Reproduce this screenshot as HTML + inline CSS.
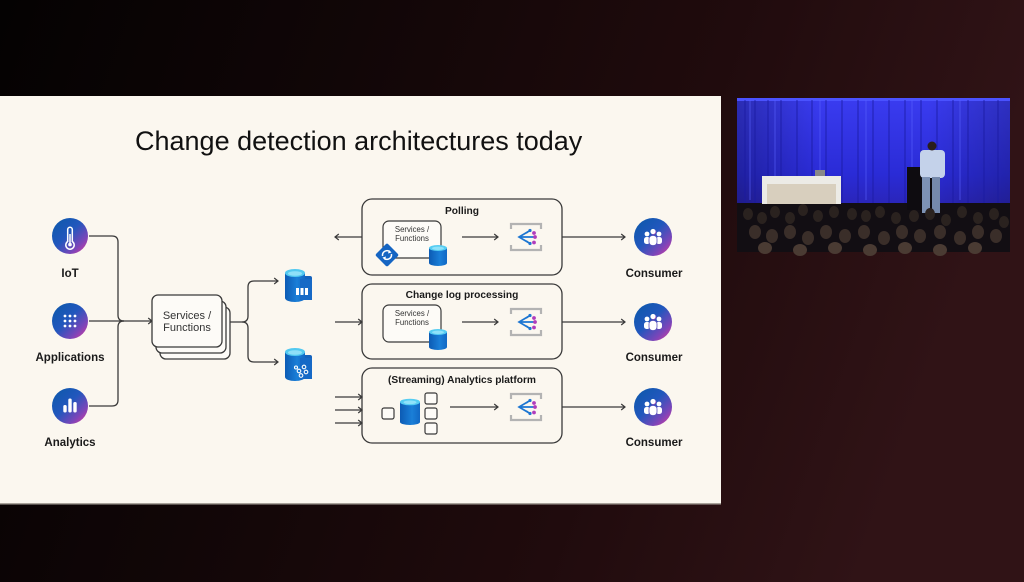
<!DOCTYPE html>
<html><head><meta charset="utf-8"><style>
html,body{margin:0;padding:0;width:1024px;height:582px;overflow:hidden;background:#000}
svg{display:block}
text{font-family:"Liberation Sans",Arial,sans-serif}
</style></head><body>
<svg width="1024" height="582" viewBox="0 0 1024 582" xmlns="http://www.w3.org/2000/svg">
<defs>
<linearGradient id="bg" x1="0" y1="0" x2="1" y2="0.2">
<stop offset="0" stop-color="#040202"/><stop offset="0.35" stop-color="#110607"/><stop offset="0.7" stop-color="#200b0d"/><stop offset="1" stop-color="#301316"/>
</linearGradient>
<linearGradient id="cg" x1="0" y1="0" x2="1" y2="1">
<stop offset="0" stop-color="#0a58a8"/><stop offset="0.45" stop-color="#2157bd"/><stop offset="0.75" stop-color="#7b45b9"/><stop offset="1" stop-color="#e23b9a"/>
</linearGradient>
<linearGradient id="dbg" x1="0" y1="0" x2="1" y2="0">
<stop offset="0" stop-color="#0c5bb4"/><stop offset="0.6" stop-color="#1a7fd8"/><stop offset="1" stop-color="#1168c4"/>
</linearGradient>
<linearGradient id="cur" x1="0" y1="0" x2="0" y2="1">
<stop offset="0" stop-color="#3a3cf0"/><stop offset="0.5" stop-color="#2a2bd6"/><stop offset="0.8" stop-color="#2a22a8"/><stop offset="1" stop-color="#1a1050"/>
</linearGradient>
<linearGradient id="curh" x1="0" y1="0" x2="1" y2="0">
<stop offset="0" stop-color="#000" stop-opacity="0.25"/><stop offset="0.3" stop-color="#000" stop-opacity="0"/><stop offset="0.7" stop-color="#000" stop-opacity="0"/><stop offset="1" stop-color="#000" stop-opacity="0.2"/>
</linearGradient>
<marker id="ah" markerWidth="8" markerHeight="8" refX="6" refY="4" orient="auto" markerUnits="userSpaceOnUse">
<path d="M2.2,1 L6,4 L2.2,7" fill="none" stroke="#3a3a3a" stroke-width="1.2"/>
</marker>
<g id="evt">
<path d="M0,5 V0 H30 V5" fill="none" stroke="#b3b3b3" stroke-width="2.2"/>
<path d="M0,21 V26 H30 V21" fill="none" stroke="#b3b3b3" stroke-width="2.2"/>
<path d="M19,6.5 L8,13 L19,19.5 M8,13 H23 M13,10 L17,8 M13,16 L17,18" fill="none" stroke="#1d76d2" stroke-width="1.7"/>
<circle cx="19" cy="6.5" r="1.6" fill="#1d76d2"/>
<circle cx="23" cy="9" r="1.9" fill="#b03cbc"/>
<circle cx="24" cy="13" r="1.9" fill="#b03cbc"/>
<circle cx="23" cy="18.5" r="1.9" fill="#b03cbc"/>
<circle cx="19" cy="19.5" r="1.6" fill="#1d76d2"/>
</g>
<g id="sdb">
<path d="M0,3 V18 A9,3 0 0 0 18,18 V3 Z" fill="url(#dbg)"/>
<ellipse cx="9" cy="3" rx="9" ry="3" fill="#56cdf2"/>
<ellipse cx="9" cy="3.3" rx="6" ry="1.7" fill="#8fe2fa"/>
</g>
<g id="bigdb">
<rect x="15" y="7" width="12" height="24" rx="2" fill="#1462bd"/>
<path d="M0,4 V29 A10,4 0 0 0 20,29 V4 Z" fill="url(#dbg)"/>
<path d="M15,10 H27 V31 H15 Z" fill="#1669c6"/>
<ellipse cx="10" cy="4" rx="10" ry="4" fill="#52c9f0"/>
<ellipse cx="10" cy="4.5" rx="7" ry="2.3" fill="#8ee0f8"/>
</g>
<g id="ppl" fill="#fff">
<circle cx="-6" cy="-3" r="2.4"/><circle cx="6" cy="-3" r="2.4"/>
<rect x="-9" y="0" width="6" height="7" rx="2.5"/><rect x="3" y="0" width="6" height="7" rx="2.5"/>
<circle cx="0" cy="-5.5" r="3" stroke="url(#cg)" stroke-width="0.8"/>
<rect x="-4" y="-1.5" width="8" height="10" rx="3.5" stroke="#5a4fbd" stroke-width="0.8"/>
</g>
</defs>

<rect x="0" y="0" width="1024" height="582" fill="url(#bg)"/>

<!-- slide -->
<rect x="0" y="96" width="721" height="408" fill="#fbf7ef"/>
<rect x="0" y="503" width="721" height="1.5" fill="#a8a29a"/>

<text x="135" y="150" font-size="27" fill="#111">Change detection architectures today</text>

<!-- left sources -->
<circle cx="70" cy="236" r="18" fill="url(#cg)"/>
<path d="M67.7,241.5 V229.5 A2.3,2.3 0 0 1 72.3,229.5 V241.5 A4.2,4.2 0 1 1 67.7,241.5 Z" fill="none" stroke="#fff" stroke-width="1.5"/>
<line x1="70" y1="234" x2="70" y2="243" stroke="#fff" stroke-width="1.5"/>
<circle cx="70" cy="244.6" r="1.8" fill="#fff"/>

<circle cx="70" cy="321" r="18" fill="url(#cg)"/>
<g fill="#fff">
<circle cx="65" cy="316" r="1.4"/><circle cx="70" cy="316" r="1.4"/><circle cx="75" cy="316" r="1.4"/>
<circle cx="65" cy="321" r="1.4"/><circle cx="70" cy="321" r="1.4"/><circle cx="75" cy="321" r="1.4"/>
<circle cx="65" cy="326" r="1.4"/><circle cx="70" cy="326" r="1.4"/><circle cx="75" cy="326" r="1.4"/>
</g>

<circle cx="70" cy="406" r="18" fill="url(#cg)"/>
<g fill="#fff">
<rect x="63.3" y="405" width="3.4" height="7.5" rx="1.6"/>
<rect x="68.3" y="398.5" width="3.4" height="14" rx="1.6"/>
<rect x="73.3" y="402" width="3.4" height="10.5" rx="1.6"/>
</g>

<g font-size="11.5" font-weight="bold" fill="#1a1a1a" text-anchor="middle">
<text x="70" y="277">IoT</text>
<text x="70" y="361">Applications</text>
<text x="70" y="446">Analytics</text>
</g>

<g fill="none" stroke="#3a3a3a" stroke-width="1.3">
<path d="M89,236 H112 Q118,236 118,242 V315 Q118,321 124,321"/>
<path d="M89,406 H112 Q118,406 118,400 V327 Q118,321 124,321"/>
<path d="M89,321 H152" marker-end="url(#ah)"/>
<path d="M230,322 H242 Q248,322 248,316 V287 Q248,281 254,281 H278" marker-end="url(#ah)"/>
<path d="M242,322 Q248,322 248,328 V356 Q248,362 254,362 H278" marker-end="url(#ah)"/>
</g>

<!-- stacked services -->
<g stroke="#3a3a3a" stroke-width="1.3" fill="#fdfbf7">
<rect x="160" y="307" width="70" height="52" rx="6"/>
<rect x="156" y="301" width="70" height="52" rx="6"/>
<rect x="152" y="295" width="70" height="52" rx="6"/>
</g>
<g font-size="11" fill="#333" text-anchor="middle">
<text x="187" y="319">Services /</text>
<text x="187" y="331">Functions</text>
</g>

<!-- big dbs -->
<use href="#bigdb" x="285" y="269"/>
<g fill="#fff">
<rect x="296" y="288" width="3" height="7"/><rect x="300.5" y="288" width="3" height="7"/><rect x="305" y="288" width="3" height="7"/>
</g>
<use href="#bigdb" x="285" y="348"/>
<g fill="none" stroke="#fff" stroke-width="1.1">
<circle cx="299" cy="371" r="1.8"/><circle cx="304" cy="367" r="1.8"/><circle cx="306" cy="372" r="1.8"/><circle cx="301" cy="375.5" r="1.8"/><circle cx="296" cy="367.5" r="1.5"/>
</g>

<!-- middle boxes -->
<g fill="none" stroke="#3a3a3a" stroke-width="1.3">
<rect x="362" y="199" width="200" height="76" rx="10"/>
<rect x="362" y="284" width="200" height="75" rx="10"/>
<rect x="362" y="368" width="200" height="75" rx="10"/>
<path d="M362,237 H335" marker-end="url(#ah)"/>
<path d="M335,322 H362" marker-end="url(#ah)"/>
<path d="M335,397 H362" marker-end="url(#ah)"/>
<path d="M335,410 H362" marker-end="url(#ah)"/>
<path d="M335,423 H362" marker-end="url(#ah)"/>
<path d="M462,237 H498" marker-end="url(#ah)"/>
<path d="M462,322 H498" marker-end="url(#ah)"/>
<path d="M450,407 H498" marker-end="url(#ah)"/>
<path d="M562,237 H625" marker-end="url(#ah)"/>
<path d="M562,322 H625" marker-end="url(#ah)"/>
<path d="M562,407 H625" marker-end="url(#ah)"/>
</g>
<g font-size="10.2" font-weight="bold" fill="#1a1a1a" text-anchor="middle">
<text x="462" y="214">Polling</text>
<text x="462" y="298">Change log processing</text>
<text x="462" y="383">(Streaming) Analytics platform</text>
</g>

<!-- polling content -->
<rect x="383" y="221" width="58" height="37" rx="6" fill="#fdfbf7" stroke="#3a3a3a" stroke-width="1.2"/>
<g font-size="7.8" fill="#333" text-anchor="middle">
<text x="412" y="232">Services /</text>
<text x="412" y="241">Functions</text>
</g>
<g transform="translate(387,255) rotate(45)"><rect x="-8.5" y="-8.5" width="17" height="17" rx="2" fill="#1565c3"/></g>
<g fill="none" stroke="#fff" stroke-width="1.5">
<path d="M382.6,256 A4.5,4.5 0 0 1 390,251.8"/>
<path d="M391.4,254 A4.5,4.5 0 0 1 384,258.2"/>
</g>
<path d="M389,250 L391.5,252.5 L388,253.5 Z" fill="#fff"/>
<path d="M385,260 L382.5,257.5 L386,256.5 Z" fill="#fff"/>
<use href="#sdb" x="429" y="245"/>
<use href="#evt" x="511" y="224"/>

<!-- change log content -->
<rect x="383" y="305" width="58" height="37" rx="6" fill="#fdfbf7" stroke="#3a3a3a" stroke-width="1.2"/>
<g font-size="7.8" fill="#333" text-anchor="middle">
<text x="412" y="316">Services /</text>
<text x="412" y="325">Functions</text>
</g>
<use href="#sdb" x="429" y="329"/>
<use href="#evt" x="511" y="309"/>

<!-- streaming content -->
<g fill="#fdfbf7" stroke="#3a3a3a" stroke-width="1.2">
<rect x="382" y="408" width="12" height="11" rx="2"/>
<rect x="425" y="393" width="12" height="11" rx="2"/>
<rect x="425" y="408" width="12" height="11" rx="2"/>
<rect x="425" y="423" width="12" height="11" rx="2"/>
</g>
<path d="M400,402 V422 A10,3 0 0 0 420,422 V402 Z" fill="url(#dbg)"/>
<ellipse cx="410" cy="402" rx="10" ry="3.3" fill="#56cdf2"/>
<ellipse cx="410" cy="402.3" rx="6.5" ry="1.8" fill="#8fe2fa"/>
<use href="#evt" x="511" y="394"/>

<!-- consumers -->
<circle cx="653" cy="237" r="19" fill="url(#cg)"/>
<use href="#ppl" x="653" y="237"/>
<circle cx="653" cy="322" r="19" fill="url(#cg)"/>
<use href="#ppl" x="653" y="322"/>
<circle cx="653" cy="407" r="19" fill="url(#cg)"/>
<use href="#ppl" x="653" y="407"/>
<g font-size="11.5" font-weight="bold" fill="#1a1a1a" text-anchor="middle">
<text x="654" y="277">Consumer</text>
<text x="654" y="361">Consumer</text>
<text x="654" y="446">Consumer</text>
</g>

<!-- camera feed -->
<g>
<rect x="737" y="98" width="273" height="154" fill="url(#cur)"/>
<rect x="737" y="98" width="273" height="154" fill="url(#curh)"/>
<rect x="737" y="98" width="273" height="3" fill="#4a52ff"/>
<g stroke="#1a1aa0" stroke-width="1.2" opacity="0.65">
<line x1="745" y1="100" x2="745" y2="205"/><line x1="755" y1="100" x2="755" y2="205"/><line x1="768" y1="100" x2="768" y2="205"/>
<line x1="781" y1="100" x2="781" y2="205"/><line x1="797" y1="100" x2="797" y2="205"/><line x1="812" y1="100" x2="812" y2="205"/>
<line x1="826" y1="100" x2="826" y2="205"/><line x1="842" y1="100" x2="842" y2="205"/><line x1="858" y1="100" x2="858" y2="205"/>
<line x1="873" y1="100" x2="873" y2="205"/><line x1="889" y1="100" x2="889" y2="205"/><line x1="905" y1="100" x2="905" y2="205"/>
<line x1="921" y1="100" x2="921" y2="205"/><line x1="937" y1="100" x2="937" y2="205"/><line x1="953" y1="100" x2="953" y2="205"/>
<line x1="968" y1="100" x2="968" y2="205"/><line x1="984" y1="100" x2="984" y2="205"/><line x1="998" y1="100" x2="998" y2="205"/>
</g>
<g stroke="#5a62ff" stroke-width="1.2" opacity="0.5">
<line x1="750" y1="100" x2="750" y2="200"/><line x1="775" y1="100" x2="775" y2="200"/><line x1="820" y1="100" x2="820" y2="200"/>
<line x1="866" y1="100" x2="866" y2="200"/><line x1="912" y1="100" x2="912" y2="200"/><line x1="960" y1="100" x2="960" y2="200"/>
</g>
<rect x="737" y="203" width="273" height="49" fill="#120e13"/>
<rect x="762" y="176" width="79" height="28" fill="#ecebe6"/>
<rect x="767" y="184" width="69" height="20" fill="#d8cfbe"/>
<rect x="815" y="170" width="10" height="6" fill="#888"/>
<rect x="907" y="167" width="33" height="43" fill="#0e0c10"/>
<rect x="920" y="150" width="25" height="28" rx="4" fill="#c4d2ea"/>
<circle cx="932" cy="146" r="4.5" fill="#2a1e1c"/>
<rect x="922" y="177" width="8" height="36" fill="#7d92b4"/>
<rect x="932" y="177" width="8" height="36" fill="#7589ab"/>
<g fill="#2a221f">
<ellipse cx="748" cy="214" rx="5" ry="6"/><ellipse cx="762" cy="218" rx="5" ry="6"/><ellipse cx="775" cy="212" rx="5" ry="6"/>
<ellipse cx="790" cy="218" rx="5" ry="6"/><ellipse cx="803" cy="210" rx="5" ry="6"/><ellipse cx="818" cy="216" rx="5" ry="6"/>
<ellipse cx="834" cy="212" rx="5" ry="6"/><ellipse cx="852" cy="214" rx="5" ry="6"/><ellipse cx="866" cy="216" rx="5" ry="6"/>
<ellipse cx="880" cy="212" rx="5" ry="6"/><ellipse cx="896" cy="218" rx="5" ry="6"/><ellipse cx="914" cy="216" rx="5" ry="6"/>
<ellipse cx="930" cy="214" rx="5" ry="6"/><ellipse cx="946" cy="220" rx="5" ry="6"/><ellipse cx="962" cy="212" rx="5" ry="6"/>
<ellipse cx="978" cy="218" rx="5" ry="6"/><ellipse cx="994" cy="214" rx="5" ry="6"/><ellipse cx="1004" cy="222" rx="5" ry="6"/>
</g>
<g fill="#3a2e29">
<ellipse cx="755" cy="232" rx="6" ry="7"/><ellipse cx="772" cy="236" rx="6" ry="7"/><ellipse cx="790" cy="232" rx="6" ry="7"/>
<ellipse cx="808" cy="238" rx="6" ry="7"/><ellipse cx="826" cy="232" rx="6" ry="7"/><ellipse cx="845" cy="236" rx="6" ry="7"/>
<ellipse cx="864" cy="232" rx="6" ry="7"/><ellipse cx="884" cy="238" rx="6" ry="7"/><ellipse cx="902" cy="232" rx="6" ry="7"/>
<ellipse cx="920" cy="236" rx="6" ry="7"/><ellipse cx="940" cy="232" rx="6" ry="7"/><ellipse cx="960" cy="238" rx="6" ry="7"/>
<ellipse cx="978" cy="232" rx="6" ry="7"/><ellipse cx="996" cy="236" rx="6" ry="7"/>
</g>
<g fill="#4a3b33">
<ellipse cx="765" cy="248" rx="7" ry="6"/><ellipse cx="800" cy="250" rx="7" ry="6"/><ellipse cx="835" cy="248" rx="7" ry="6"/>
<ellipse cx="870" cy="250" rx="7" ry="6"/><ellipse cx="905" cy="248" rx="7" ry="6"/><ellipse cx="940" cy="250" rx="7" ry="6"/><ellipse cx="975" cy="248" rx="7" ry="6"/>
</g>
</g>
</svg>
</body></html>
